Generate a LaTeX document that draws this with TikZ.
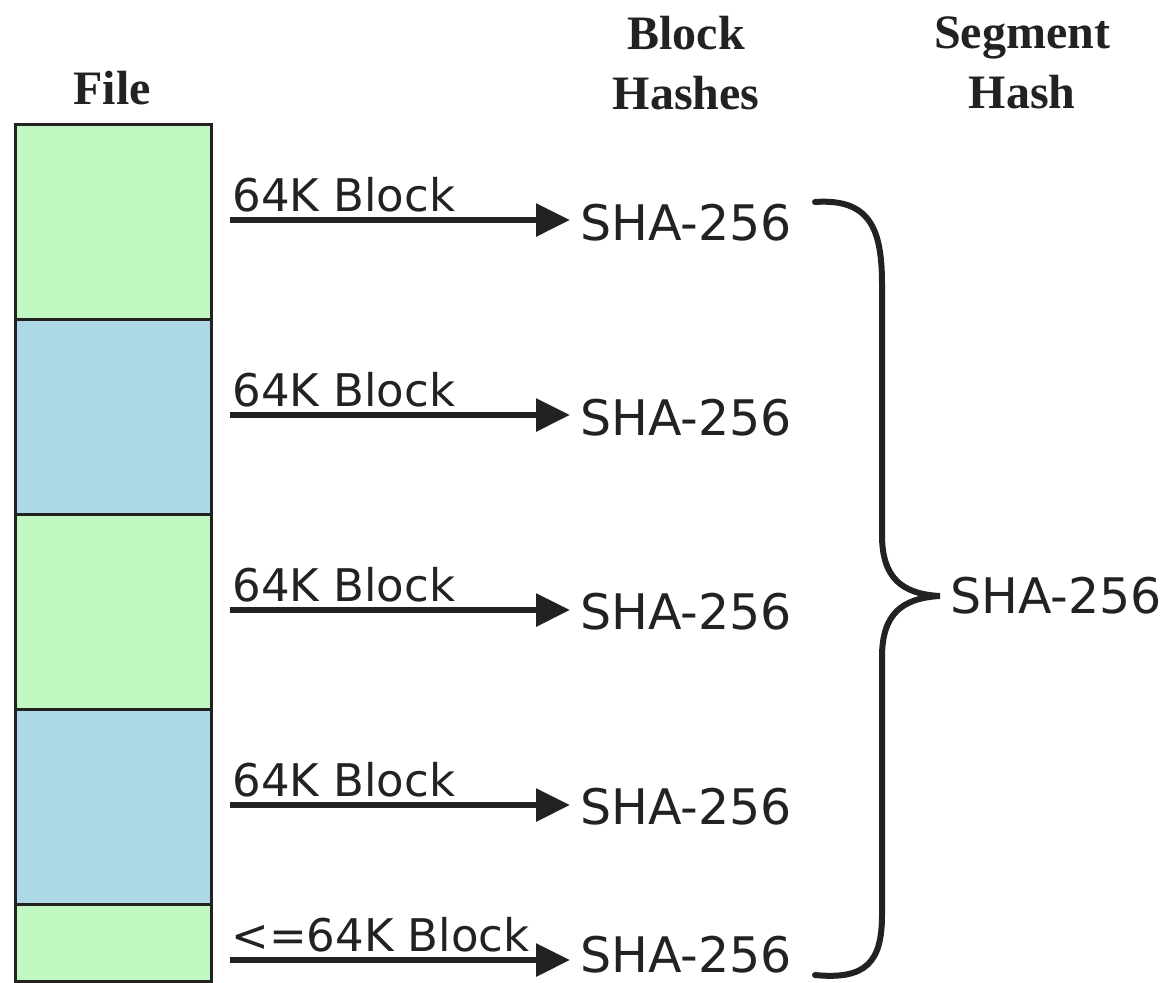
\documentclass[tikz,border=0pt]{standalone}
\usepackage{fontspec}
\setmainfont{DejaVu Sans}
\newfontfamily\headfont{Liberation Serif}
\usetikzlibrary{arrows.meta}

\definecolor{blockgreen}{RGB}{193,247,192}
\definecolor{blockblue}{RGB}{173,216,230}
\definecolor{ink}{RGB}{34,34,34}

\begin{document}
\begin{tikzpicture}[
    x=0.5pt, y=-0.5pt,
    block/.style={rectangle, draw=ink, line width=1.5pt, minimum width=98pt, inner sep=0pt, anchor=north west},
    greenblock/.style={block, fill=blockgreen},
    blueblock/.style={block, fill=blockblue},
    feed/.style={-{Triangle[length=17pt, width=16pt]}, line width=3pt, ink},
    size/.style={anchor=base west, inner sep=0pt, text=ink, font=\fontsize{22.5}{27}\selectfont},
    hash/.style={anchor=west, inner xsep=5pt, inner ysep=0pt, text=ink, font=\fontsize{24.5}{29}\selectfont},
    head/.style={align=center, text=ink, font=\fontsize{24}{30}\selectfont\headfont\bfseries},
    brace/.style={line width=3pt, ink, line cap=round},
]
\useasboundingbox (0,0) rectangle (1165,982);

% File blocks
\node[greenblock, minimum height=97.5pt] (b1) at (14,123) {};
\node[blueblock, minimum height=97.5pt] (b2) at (14,318) {};
\node[greenblock, minimum height=97.5pt] (b3) at (14,513) {};
\node[blueblock, minimum height=97.5pt] (b4) at (14,708) {};
\node[greenblock, minimum height=38.5pt] (b5) at (14,903) {};

% Headings
\node[head] (filehead) at (112,88) {File};
\node[head] (blockhead) at (686,63) {Block\\Hashes};
\node[head] (seghead) at (1022,63) {Segment\\Hash};

% Block hashes
\node[hash] (h1) at (570,223) {SHA-256};
\node[hash] (h2) at (570,418) {SHA-256};
\node[hash] (h3) at (570,612) {SHA-256};
\node[hash] (h4) at (570,807) {SHA-256};
\node[hash] (h5) at (570,955) {SHA-256};

% Arrows with block labels
\coordinate (a1) at (230,220);
\coordinate (a2) at (230,415);
\coordinate (a3) at (230,610);
\coordinate (a4) at (230,805);
\coordinate (a5) at (230,960);
\draw[feed] (a1) -- (a1 -| h1.west);
\draw[feed] (a2) -- (a2 -| h2.west);
\draw[feed] (a3) -- (a3 -| h3.west);
\draw[feed] (a4) -- (a4 -| h4.west);
\draw[feed] (a5) -- (a5 -| h5.west);
\node[size] (l1) at (232,211) {64K Block};
\node[size] (l2) at (232,406) {64K Block};
\node[size] (l3) at (232,601) {64K Block};
\node[size] (l4) at (232,796) {64K Block};
\node[size] (l5) at (231,951) {<=64K Block};

% Segment hash and brace
\node[hash] (seg) at (940,596) {SHA-256};
\coordinate (bt) at (815,202);
\coordinate (bb) at (815,975);
\draw[brace] (bt) .. controls (872,198) and (882,232) .. (882,285)
    -- (882,535) .. controls (882,578) and (902,594) .. (seg.west)
    .. controls (902,598) and (882,614) .. (882,657)
    -- (882,915) .. controls (882,962) and (866,980) .. (bb);
\end{tikzpicture}
\end{document}
